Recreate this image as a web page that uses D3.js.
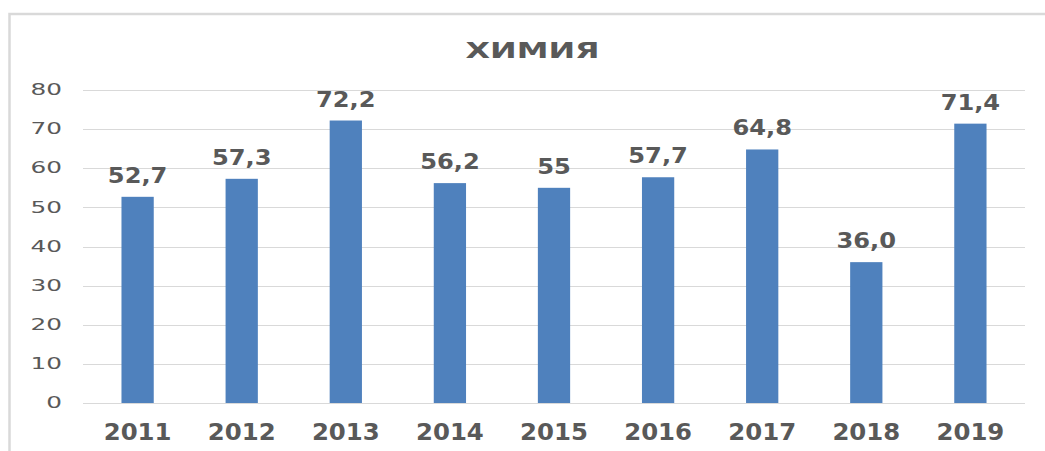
<!DOCTYPE html>
<html>
<head>
<meta charset="utf-8">
<script src="https://cdnjs.cloudflare.com/ajax/libs/d3/7.8.5/d3.min.js"></script>
<style>
  body { margin: 0; background: #fff; }
  svg { display: block; }
</style>
</head>
<body>
<div id="chart"></div>
<script>
// Data
var years = ["2011", "2012", "2013", "2014", "2015", "2016", "2017", "2018", "2019"];
var values = [52.7, 57.3, 72.2, 56.2, 55, 57.7, 64.8, 36.0, 71.4];
var valueLabels = ["52,7", "57,3", "72,2", "56,2", "55", "57,7", "64,8", "36,0", "71,4"];
var yTicks = [0, 10, 20, 30, 40, 50, 60, 70, 80];
var title = "ХИМИЯ";

var width = 1045, height = 451;
var textColor = "#595959";
var font = "'DejaVu Sans', sans-serif";

var svg = d3.select("#chart")
    .append("svg")
    .attr("width", width)
    .attr("height", height);

//Outer chart border (right and bottom edges fall outside the picture)
svg.append("rect")
    .attr("x", 9.5)
    .attr("y", 14)
    .attr("width", width + 20)
    .attr("height", height + 20)
    .attr("fill", "#fff")
    .attr("stroke", "#d9d9d9")
    .attr("stroke-width", 2.5);

var x = d3.scaleBand()
    .domain(years)
    .range([84, 1024])
    .paddingInner(0.69)
    .paddingOuter(0.36);

var y = d3.scaleLinear()
    .domain([0, 80])
    .range([403, 90]);

//Helper: text stretched horizontally around its anchor point
function stretched(sel, sx){
    sel.attr("transform", function(){
        var tx = +d3.select(this).attr("data-x");
        var ty = +d3.select(this).attr("data-y");
        return "translate(" + tx + "," + ty + ") scale(" + sx + ",1)";
    });
}

//Gridlines
svg.append("g")
    .selectAll("line")
    .data(yTicks)
    .join("line")
    .attr("x1", 83)
    .attr("x2", 1025)
    .attr("y1", function(d){ return Math.round(y(d)) + 0.5; })
    .attr("y2", function(d){ return Math.round(y(d)) + 0.5; })
    .attr("stroke", "#d9d9d9")
    .attr("stroke-width", 1);

//Y axis labels
svg.append("g")
    .selectAll("text")
    .data(yTicks)
    .join("text")
    .attr("data-x", 62)
    .attr("data-y", function(d){ return y(d); })
    .attr("text-anchor", "end")
    .attr("dominant-baseline", "central")
    .attr("font-family", font)
    .attr("font-size", 15)
    .attr("fill", textColor)
    .text(function(d){ return d; })
    .call(stretched, 1.65);

//Bars
svg.append("g")
    .selectAll("rect")
    .data(values)
    .join("rect")
    .attr("x", function(d, i){ return x(years[i]); })
    .attr("y", function(d){ return y(d); })
    .attr("width", x.bandwidth())
    .attr("height", function(d){ return y(0) - y(d); })
    .attr("fill", "#4f81bd");

//Value labels
svg.append("g")
    .selectAll("text")
    .data(values)
    .join("text")
    .attr("data-x", function(d, i){ return x(years[i]) + x.bandwidth() / 2; })
    .attr("data-y", function(d){ return y(d) - 14; })
    .attr("text-anchor", "middle")
    .attr("font-family", font)
    .attr("font-weight", "bold")
    .attr("font-size", 21)
    .attr("fill", textColor)
    .text(function(d, i){ return valueLabels[i]; })
    .call(stretched, 1.15);

//X axis labels
svg.append("g")
    .selectAll("text")
    .data(years)
    .join("text")
    .attr("data-x", function(d){ return x(d) + x.bandwidth() / 2; })
    .attr("data-y", 440)
    .attr("text-anchor", "middle")
    .attr("font-family", font)
    .attr("font-weight", "bold")
    .attr("font-size", 23)
    .attr("fill", textColor)
    .text(function(d){ return d; })
    .call(stretched, 1.06);

//Title
svg.append("text")
    .attr("data-x", 532.5)
    .attr("data-y", 58)
    .attr("text-anchor", "middle")
    .attr("font-family", font)
    .attr("font-weight", "bold")
    .attr("font-size", 22)
    .attr("fill", textColor)
    .text(title)
    .call(stretched, 1.45);
</script>
</body>
</html>
